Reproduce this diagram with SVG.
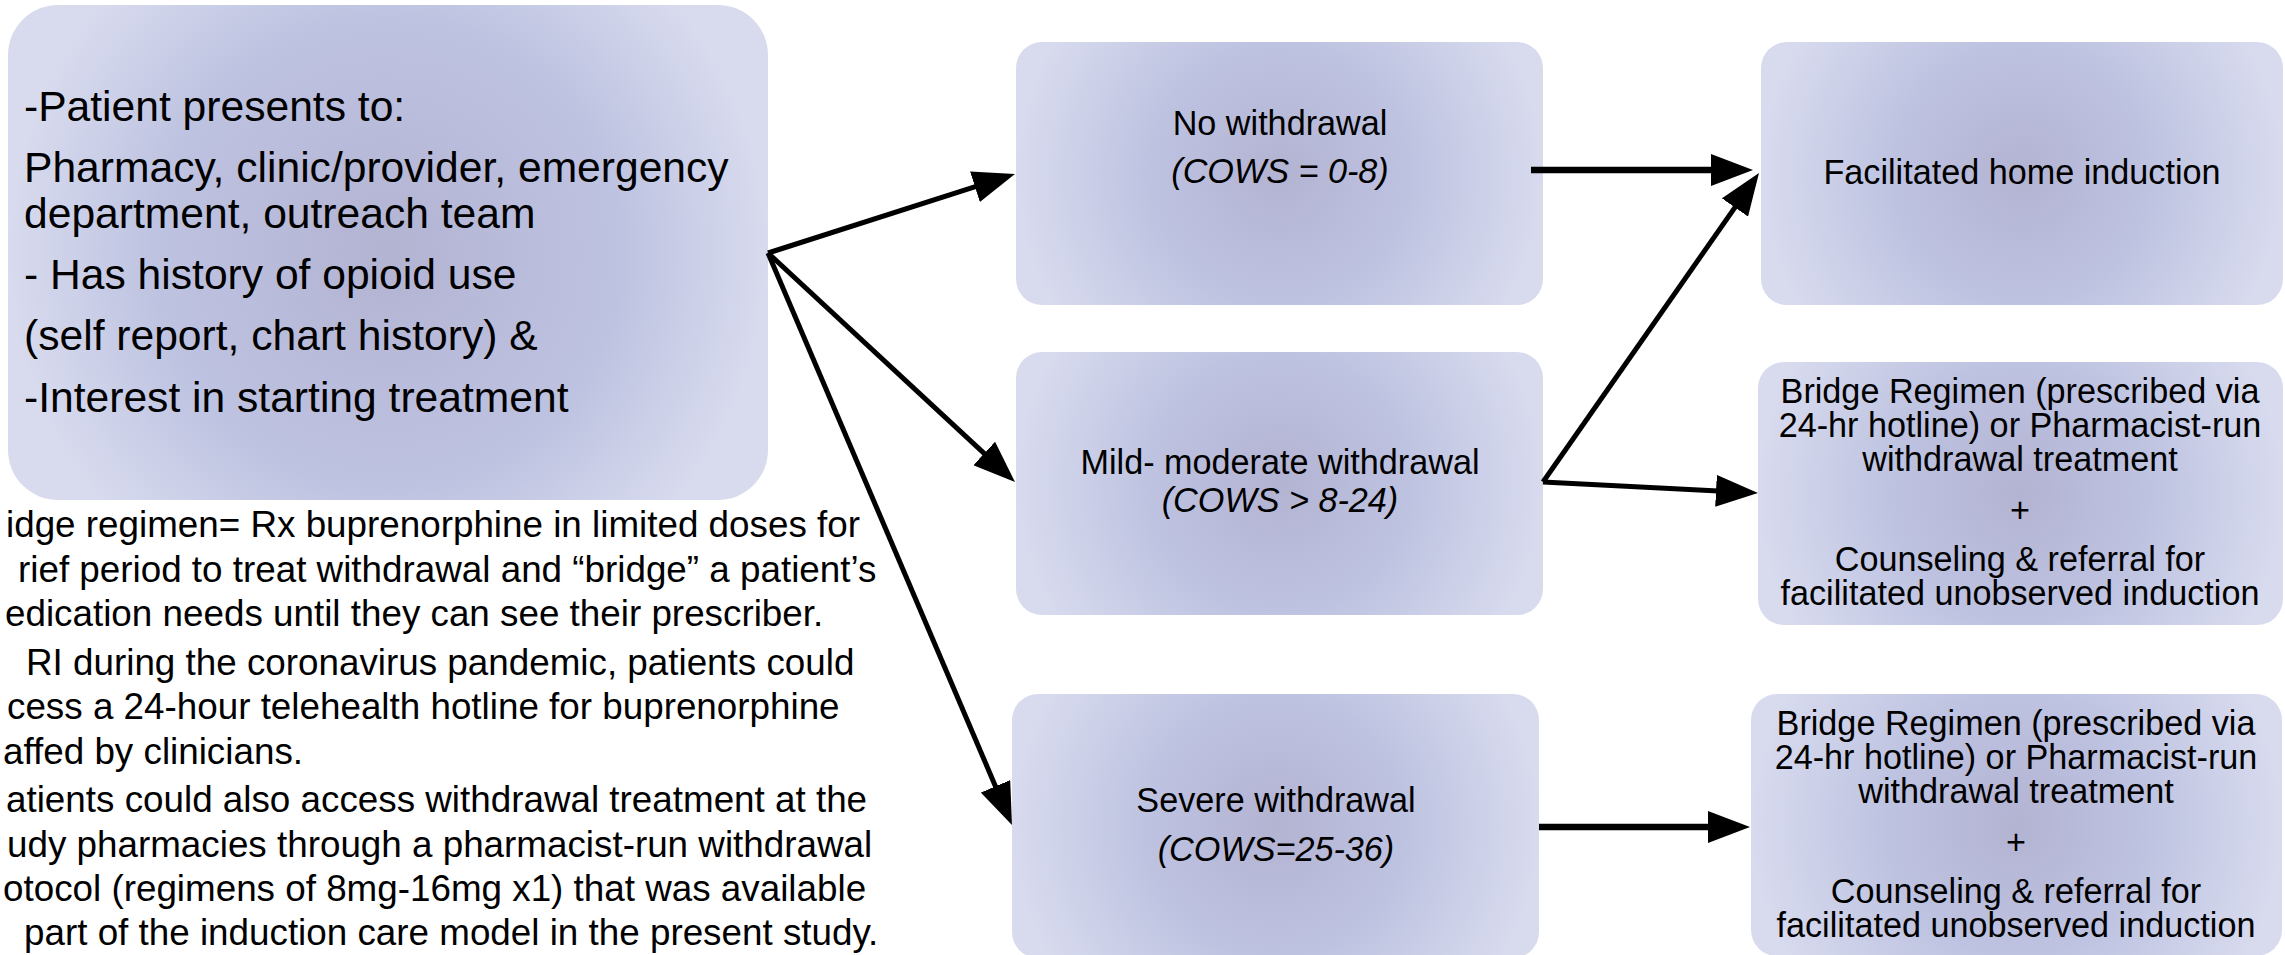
<svg xmlns="http://www.w3.org/2000/svg" width="2285" height="955" viewBox="0 0 2285 955">
<style>
text{font-family:"Liberation Sans",Arial,Helvetica,sans-serif;fill:#000}
.m{font-size:42.6px}
.n{font-size:36.8px}
.c{font-size:34.2px;text-anchor:middle}
.i{font-style:italic}
.ln{stroke:#000;fill:none;stroke-linecap:butt}
.thin{stroke-width:5}
.thick{stroke-width:6.5}
</style>
<defs>
<radialGradient id="gSmall" cx="0.5" cy="0.5" r="0.5" gradientTransform="translate(0.5 0.5) scale(1 2) translate(-0.5 -0.5)">
<stop offset="0" stop-color="#b3b3d2"/>
<stop offset="0.5" stop-color="#bec3e1"/>
<stop offset="1" stop-color="#d8dbee"/>
</radialGradient>
<radialGradient id="gMain" cx="0.5" cy="0.5" r="0.5" gradientTransform="translate(0.5 0.5) scale(1 1.545) translate(-0.5 -0.5)">
<stop offset="0" stop-color="#b3b3d2"/>
<stop offset="0.62" stop-color="#bec3e1"/>
<stop offset="1" stop-color="#d8dbee"/>
</radialGradient>
<marker id="ah" markerUnits="userSpaceOnUse" markerWidth="42" markerHeight="32" refX="12" refY="16" orient="auto" viewBox="0 0 42 32">
<path d="M0,0 L42,16 L0,32 z" fill="#000"/>
</marker>
</defs>

<g id="start">
<rect x="8" y="5" width="760" height="495" rx="50" ry="50" fill="url(#gMain)"/>
<text class="m" x="24" y="121">-Patient presents to:</text>
<text class="m" x="24" y="182">Pharmacy, clinic/provider, emergency</text>
<text class="m" x="24" y="228">department, outreach team</text>
<text class="m" x="24" y="289">- Has history of opioid use</text>
<text class="m" x="24" y="350">(self report, chart history) &amp;</text>
<text class="m" x="24" y="412">-Interest in starting treatment</text>
</g>

<g id="note">
<text class="n" x="6" y="537">idge regimen= Rx buprenorphine in limited doses for</text>
<text class="n" x="18" y="582">rief period to treat withdrawal and “bridge” a patient’s</text>
<text class="n" x="5" y="626">edication needs until they can see their prescriber.</text>
<text class="n" x="26" y="675">RI during the coronavirus pandemic, patients could</text>
<text class="n" x="7" y="719">cess a 24-hour telehealth hotline for buprenorphine</text>
<text class="n" x="3" y="764">affed by clinicians.</text>
<text class="n" x="6" y="812">atients could also access withdrawal treatment at the</text>
<text class="n" x="7" y="857">udy pharmacies through a pharmacist-run withdrawal</text>
<text class="n" x="3" y="901">otocol (regimens of 8mg-16mg x1) that was available</text>
<text class="n" x="24" y="945">part of the induction care model in the present study.</text>
</g>

<g id="no-withdrawal">
<rect x="1016" y="42" width="527" height="263" rx="26" ry="26" fill="url(#gSmall)"/>
<text class="c" x="1280" y="135">No withdrawal</text>
<text class="c i" x="1280" y="183">(COWS = 0-8)</text>
</g>

<g id="mild">
<rect x="1016" y="352" width="527" height="263" rx="26" ry="26" fill="url(#gSmall)"/>
<text class="c" x="1280" y="474">Mild- moderate withdrawal</text>
<text class="c i" x="1280" y="512">(COWS &gt; 8-24)</text>
</g>

<g id="severe">
<rect x="1012" y="694" width="527" height="264" rx="26" ry="26" fill="url(#gSmall)"/>
<text class="c" x="1276" y="812">Severe withdrawal</text>
<text class="c i" x="1276" y="861">(COWS=25-36)</text>
</g>

<g id="home-induction">
<rect x="1761" y="42" width="522" height="263" rx="26" ry="26" fill="url(#gSmall)"/>
<text class="c" x="2022" y="184">Facilitated home induction</text>
</g>

<g id="bridge-mild">
<rect x="1758" y="362" width="525" height="263" rx="26" ry="26" fill="url(#gSmall)"/>
<text class="c" x="2020" y="403">Bridge Regimen (prescribed via</text>
<text class="c" x="2020" y="437">24-hr hotline) or Pharmacist-run</text>
<text class="c" x="2020" y="471">withdrawal treatment</text>
<text class="c" x="2020" y="522">+</text>
<text class="c" x="2020" y="571">Counseling &amp; referral for</text>
<text class="c" x="2020" y="605">facilitated unobserved induction</text>
</g>

<g id="bridge-severe">
<rect x="1751" y="694" width="531" height="262" rx="26" ry="26" fill="url(#gSmall)"/>
<text class="c" x="2016" y="735">Bridge Regimen (prescribed via</text>
<text class="c" x="2016" y="769">24-hr hotline) or Pharmacist-run</text>
<text class="c" x="2016" y="803">withdrawal treatment</text>
<text class="c" x="2016" y="854">+</text>
<text class="c" x="2016" y="903">Counseling &amp; referral for</text>
<text class="c" x="2016" y="937">facilitated unobserved induction</text>
</g>

<g id="connectors">
<line class="ln thin" x1="768" y1="253" x2="986.4" y2="183.1" marker-end="url(#ah)"/>
<line class="ln thin" x1="768" y1="253" x2="993.0" y2="461.6" marker-end="url(#ah)"/>
<line class="ln thin" x1="768" y1="253" x2="1000.2" y2="797.4" marker-end="url(#ah)"/>
<line class="ln thick" x1="1531" y1="170" x2="1723" y2="170" marker-end="url(#ah)"/>
<line class="ln thin" x1="1543" y1="482" x2="1741.8" y2="197.6" marker-end="url(#ah)"/>
<line class="ln thin" x1="1543" y1="482" x2="1728" y2="491.5" marker-end="url(#ah)"/>
<line class="ln thick" x1="1539" y1="827" x2="1720" y2="827" marker-end="url(#ah)"/>
</g>
</svg>
